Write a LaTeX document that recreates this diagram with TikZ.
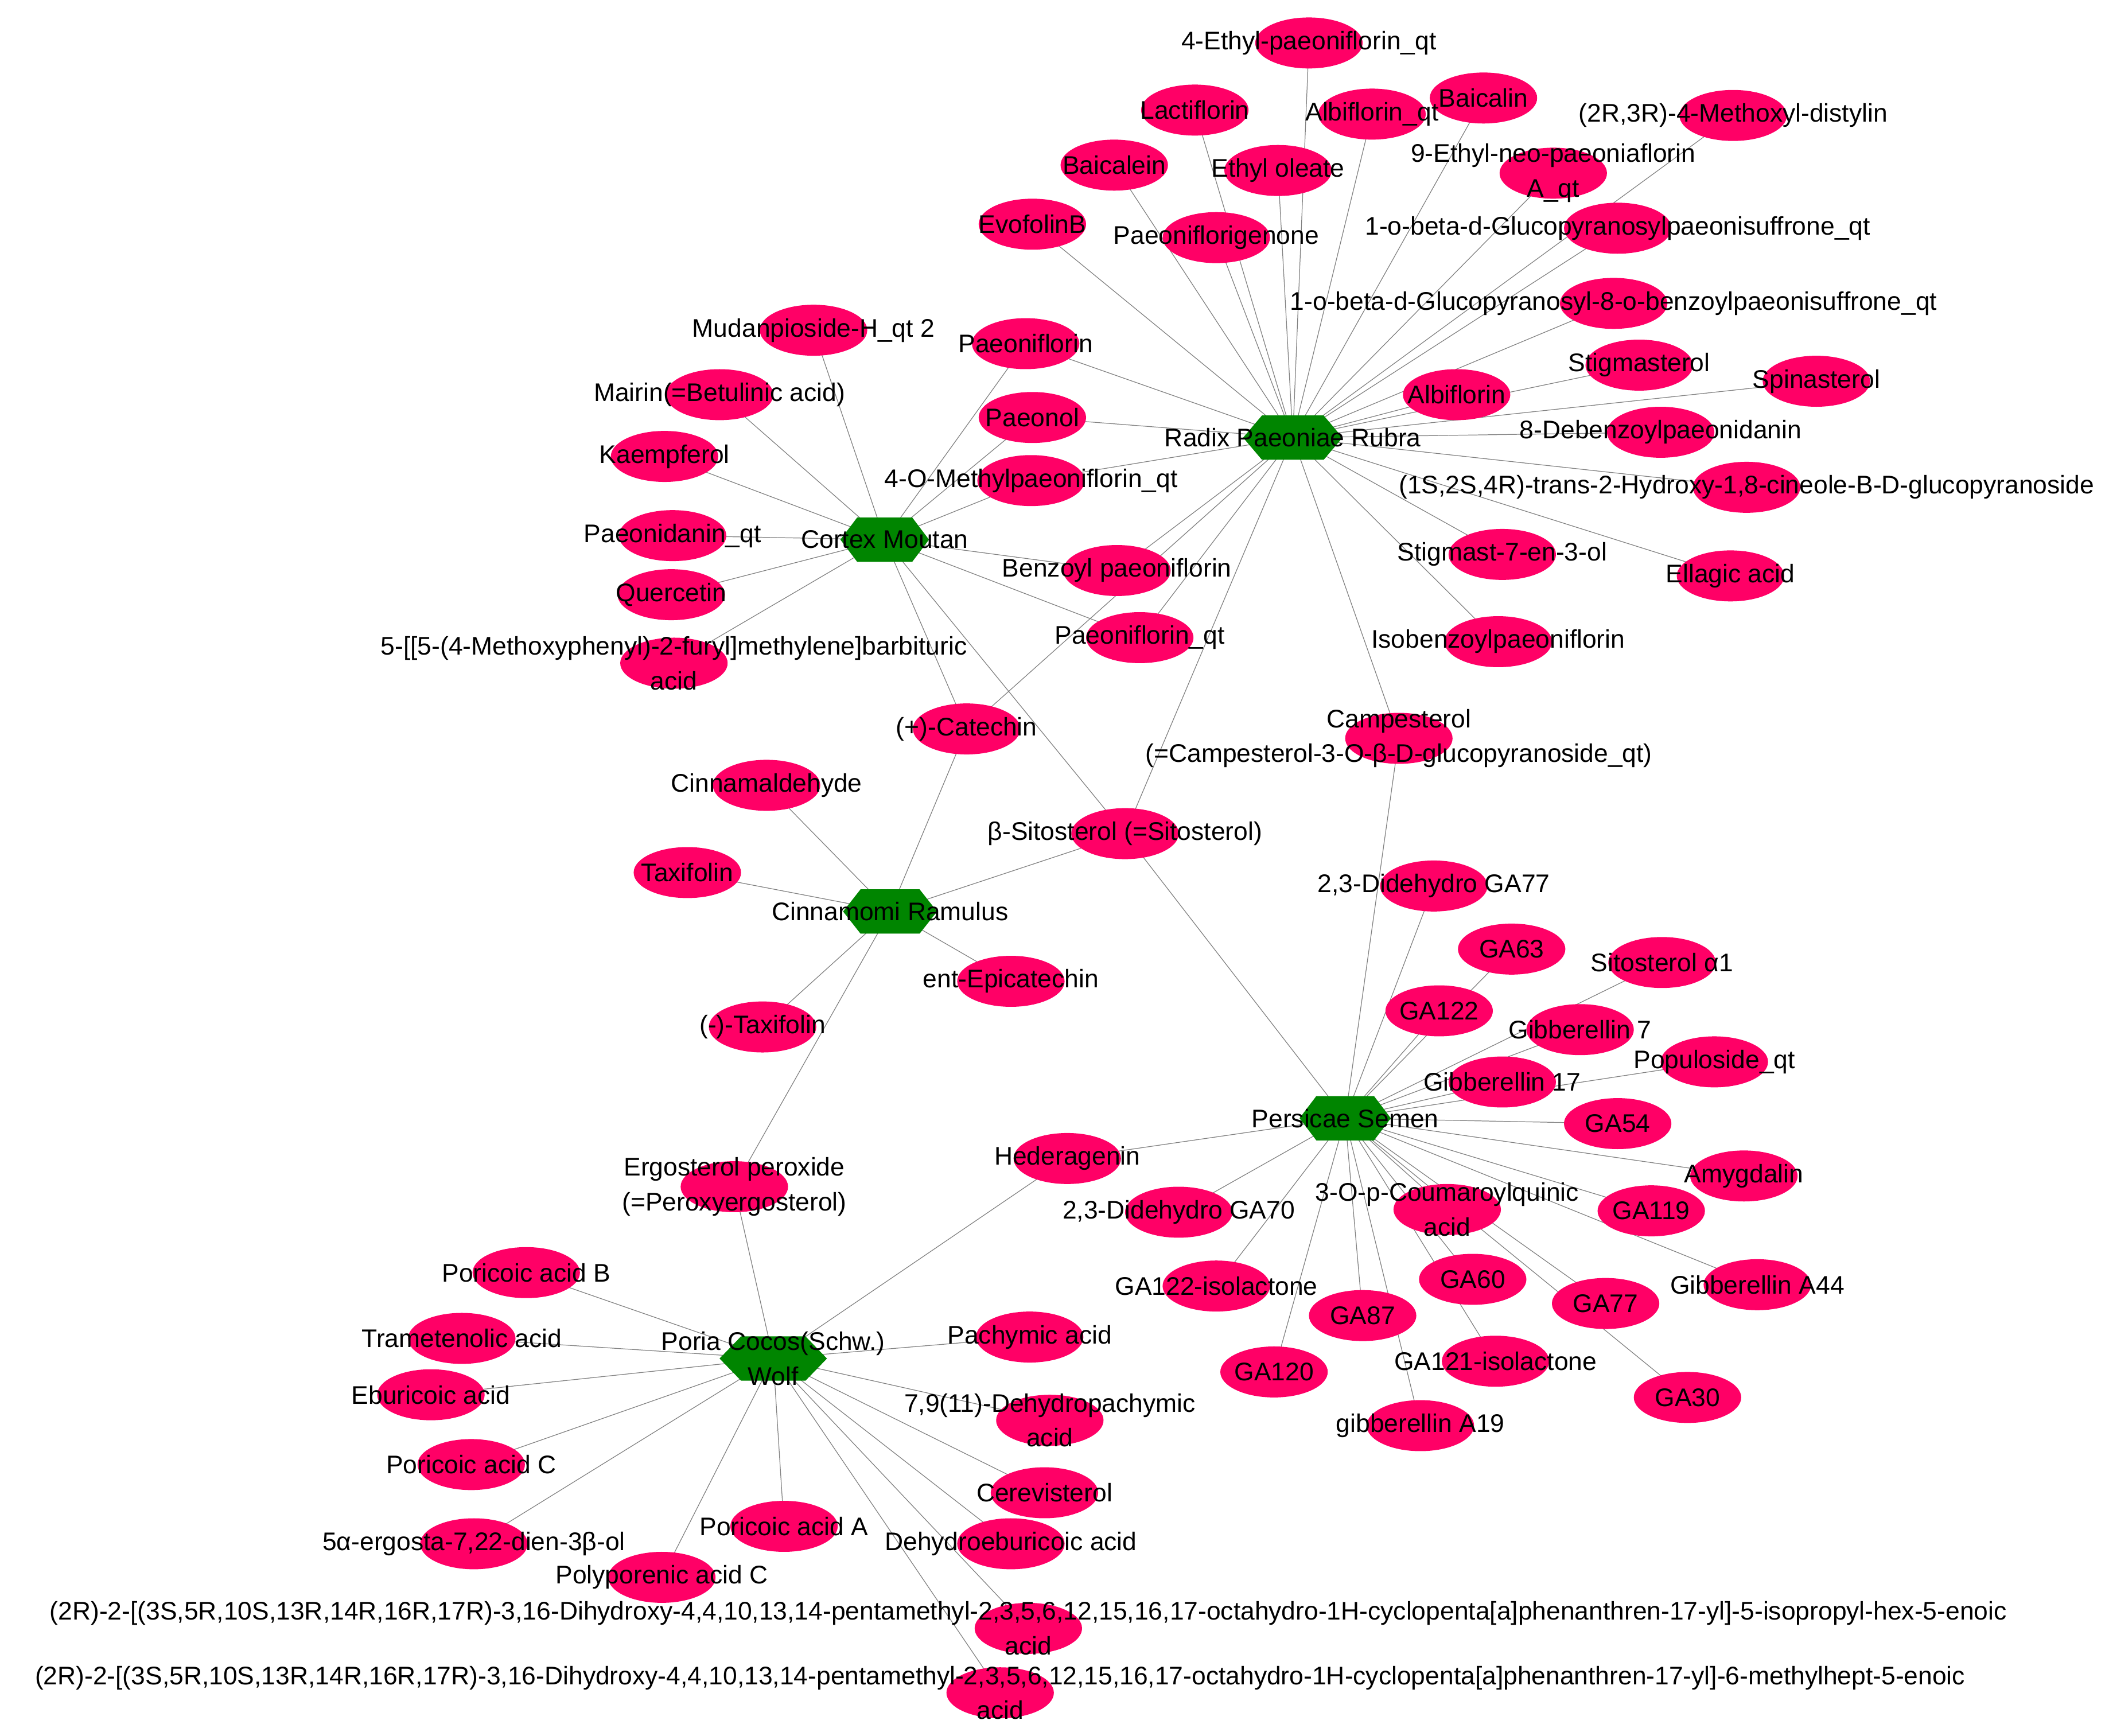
\documentclass[tikz,border=0pt]{standalone}
\usepackage{fontspec}
\setmainfont{Liberation Sans}
\usetikzlibrary{shapes.geometric}
\pgfdeclarelayer{bg}
\pgfsetlayers{bg,main}
\definecolor{cmpfill}{RGB}{255,0,102}
\definecolor{hubfill}{RGB}{0,133,0}
\definecolor{edgecol}{RGB}{128,128,128}
\newcommand\hexa[3]{\fill[hubfill] (#1.center) ++(-#2,0) -- ++(#3,-16.5) -- ++({2*(#2-#3)},0) -- ++(#3,16.5) -- ++(-#3,16.5) -- ++({-2*(#2-#3)},0) -- cycle;}
\begin{document}
\begin{tikzpicture}[x=0.05cm,y=-0.05cm,
  cmp/.style={ellipse,fill=cmpfill,minimum width=4cm,minimum height=1.9cm,inner sep=0pt},
  hub/.style={inner sep=0pt,minimum width=3.5cm,minimum height=1.65cm},
  lbl/.style={font=\fontsize{27}{37}\selectfont,align=center,inner sep=0pt,text=black},
  edge/.style={draw=edgecol,line width=0.75pt}]
\useasboundingbox (0,0) rectangle (1568,1293);

% hubs
\node[hub] (rpr) at (963,326) {};
\node[hub] (cm) at (659,402) {};
\node[hub] (cr) at (663,679) {};
\node[hub] (ps) at (1002,833) {};
\node[hub] (pc) at (576,1012) {};
\hexa{rpr}{37}{14}
\hexa{cm}{33}{12.5}
\hexa{cr}{35}{13}
\hexa{ps}{34}{12.5}
\hexa{pc}{40}{16}

% compounds
\node[cmp] (ethylpae) at (975,32) {};
\node[cmp] (lacti) at (890,82) {};
\node[cmp] (albqt) at (1022,85) {};
\node[cmp] (baicalin) at (1105,73) {};
\node[cmp] (methoxyl) at (1291,86) {};
\node[cmp] (ethylneo) at (1157,129) {};
\node[cmp] (baicalein) at (830,123) {};
\node[cmp] (ethylole) at (952,127) {};
\node[cmp] (evofolin) at (769,167) {};
\node[cmp] (paeonigen) at (906,177) {};
\node[cmp] (glucopae) at (1205,170) {};
\node[cmp] (glucobenz) at (1202,226) {};
\node[cmp] (paeoniflorin) at (764,256) {};
\node[cmp] (stigmasterol) at (1221,272) {};
\node[cmp] (spinasterol) at (1353,284) {};
\node[cmp] (albiflorin) at (1085,294) {};
\node[cmp] (paeonol) at (769,311) {};
\node[cmp] (debenz) at (1237,322) {};
\node[cmp] (methylpae) at (768,358) {};
\node[cmp] (cineole) at (1301,363) {};
\node[cmp] (stigmastseven) at (1119,413) {};
\node[cmp] (ellagic) at (1289,429) {};
\node[cmp] (benzoyl) at (832,425) {};
\node[cmp] (paeonqt) at (849,475) {};
\node[cmp] (isobenz) at (1116,478) {};
\node[cmp] (campesterol) at (1042,550) {};

\node[cmp] (mudan) at (606,246) {};
\node[cmp] (mairin) at (536,294) {};
\node[cmp] (kaempferol) at (495,340) {};
\node[cmp] (paeonidanin) at (501,399) {};
\node[cmp] (quercetin) at (500,443) {};
\node[cmp] (barbituric) at (502,494) {};

\node[cmp] (catechin) at (720,543) {};
\node[cmp] (cinnam) at (571,585) {};
\node[cmp] (sitosterol) at (838,621) {};
\node[cmp] (taxifolin) at (512,650) {};
\node[cmp] (epicat) at (753,731) {};
\node[cmp] (mtaxifolin) at (568,765) {};
\node[cmp] (ergosterol) at (547,884) {};

\node[cmp] (ddsevenseven) at (1068,660) {};
\node[cmp] (gasixthree) at (1126,707) {};
\node[cmp] (sitoalpha) at (1238,717) {};
\node[cmp] (gaonetwotwo) at (1072,753) {};
\node[cmp] (gibseven) at (1177,767) {};
\node[cmp] (populoside) at (1277,791) {};
\node[cmp] (gibseventeen) at (1119,806) {};
\node[cmp] (gafivefour) at (1205,837) {};
\node[cmp] (amygdalin) at (1299,876) {};
\node[cmp] (hederagenin) at (795,863) {};
\node[cmp] (ddseventy) at (878,903) {};
\node[cmp] (coumaroyl) at (1078,901) {};
\node[cmp] (gaonenineteen) at (1230,902) {};
\node[cmp] (gasixty) at (1097,953) {};
\node[cmp] (gaonetwotwoiso) at (906,958) {};
\node[cmp] (gaseventyseven) at (1196,971) {};
\node[cmp] (gibafortyfour) at (1309,957) {};
\node[cmp] (gaeightyseven) at (1015,980) {};
\node[cmp] (gaonetwenty) at (949,1022) {};
\node[cmp] (gaonetwoone) at (1114,1014) {};
\node[cmp] (gathirty) at (1257,1041) {};
\node[cmp] (gibanineteen) at (1058,1062) {};

\node[cmp] (poricb) at (392,948) {};
\node[cmp] (trameten) at (344,997) {};
\node[cmp] (pachymic) at (767,996) {};
\node[cmp] (eburicoic) at (321,1039) {};
\node[cmp] (dehydropach) at (782,1058) {};
\node[cmp] (poricc) at (351,1091) {};
\node[cmp] (cerevis) at (778,1112) {};
\node[cmp] (porica) at (584,1137) {};
\node[cmp] (ergosta) at (353,1150) {};
\node[cmp] (dehydroeb) at (753,1150) {};
\node[cmp] (polypor) at (493,1175) {};
\node[cmp] (longone) at (766,1213) {};
\node[cmp] (longtwo) at (745,1261) {};

% edges
\begin{pgfonlayer}{bg}
\foreach \t in {ethylpae,lacti,albqt,baicalin,methoxyl,ethylneo,baicalein,ethylole,evofolin,paeonigen,glucopae,glucobenz,paeoniflorin,stigmasterol,spinasterol,albiflorin,paeonol,debenz,methylpae,cineole,stigmastseven,ellagic,benzoyl,paeonqt,isobenz,campesterol,catechin,sitosterol}
  \draw[edge] (rpr.center) -- (\t.center);
\foreach \t in {mudan,mairin,kaempferol,paeonidanin,quercetin,barbituric,paeoniflorin,paeonol,methylpae,benzoyl,paeonqt,catechin,sitosterol}
  \draw[edge] (cm.center) -- (\t.center);
\foreach \t in {cinnam,taxifolin,catechin,sitosterol,epicat,mtaxifolin,ergosterol}
  \draw[edge] (cr.center) -- (\t.center);
\foreach \t in {sitosterol,campesterol,ddsevenseven,gasixthree,sitoalpha,gaonetwotwo,gibseven,populoside,gibseventeen,gafivefour,amygdalin,hederagenin,ddseventy,coumaroyl,gaonenineteen,gasixty,gaonetwotwoiso,gaseventyseven,gibafortyfour,gaeightyseven,gaonetwenty,gaonetwoone,gathirty,gibanineteen}
  \draw[edge] (ps.center) -- (\t.center);
\foreach \t in {ergosterol,hederagenin,poricb,trameten,eburicoic,poricc,ergosta,polypor,porica,pachymic,dehydropach,cerevis,dehydroeb,longone,longtwo}
  \draw[edge] (pc.center) -- (\t.center);
\end{pgfonlayer}

% labels
\node[lbl] (l-rpr) at (rpr) {Radix Paeoniae Rubra};
\node[lbl] (l-cm) at (cm) {Cortex Moutan};
\node[lbl] (l-cr) at (cr) {Cinnamomi Ramulus};
\node[lbl] (l-ps) at (ps) {Persicae Semen};
\node[lbl] (l-pc) at (pc) {Poria Cocos(Schw.)\\Wolf};

\node[lbl] (l-ethylpae) at (ethylpae) {4-Ethyl-paeoniflorin\_qt};
\node[lbl] (l-lacti) at (lacti) {Lactiflorin};
\node[lbl] (l-albqt) at (albqt) {Albiflorin\_qt};
\node[lbl] (l-baicalin) at (baicalin) {Baicalin};
\node[lbl] (l-methoxyl) at (methoxyl) {(2R,3R)-4-Methoxyl-distylin};
\node[lbl] (l-ethylneo) at (ethylneo) {9-Ethyl-neo-paeoniaflorin\\A\_qt};
\node[lbl] (l-baicalein) at (baicalein) {Baicalein};
\node[lbl] (l-ethylole) at (ethylole) {Ethyl oleate};
\node[lbl] (l-evofolin) at (evofolin) {EvofolinB};
\node[lbl] (l-paeonigen) at (paeonigen) {Paeoniflorigenone};
\node[lbl] (l-glucopae) at (glucopae) {1-o-beta-d-Glucopyranosylpaeonisuffrone\_qt};
\node[lbl] (l-glucobenz) at (glucobenz) {1-o-beta-d-Glucopyranosyl-8-o-benzoylpaeonisuffrone\_qt};
\node[lbl] (l-paeoniflorin) at (paeoniflorin) {Paeoniflorin};
\node[lbl] (l-stigmasterol) at (stigmasterol) {Stigmasterol};
\node[lbl] (l-spinasterol) at (spinasterol) {Spinasterol};
\node[lbl] (l-albiflorin) at (albiflorin) {Albiflorin};
\node[lbl] (l-paeonol) at (paeonol) {Paeonol};
\node[lbl] (l-debenz) at (debenz) {8-Debenzoylpaeonidanin};
\node[lbl] (l-methylpae) at (methylpae) {4-O-Methylpaeoniflorin\_qt};
\node[lbl] (l-cineole) at (cineole) {(1S,2S,4R)-trans-2-Hydroxy-1,8-cineole-B-D-glucopyranoside};
\node[lbl] (l-stigmastseven) at (stigmastseven) {Stigmast-7-en-3-ol};
\node[lbl] (l-ellagic) at (ellagic) {Ellagic acid};
\node[lbl] (l-benzoyl) at (benzoyl) {Benzoyl paeoniflorin};
\node[lbl] (l-paeonqt) at (paeonqt) {Paeoniflorin\_qt};
\node[lbl] (l-isobenz) at (isobenz) {Isobenzoylpaeoniflorin};
\node[lbl] (l-campesterol) at (campesterol) {Campesterol\\(=Campesterol-3-O-β-D-glucopyranoside\_qt)};

\node[lbl] (l-mudan) at (mudan) {Mudanpioside-H\_qt 2};
\node[lbl] (l-mairin) at (mairin) {Mairin(=Betulinic acid)};
\node[lbl] (l-kaempferol) at (kaempferol) {Kaempferol};
\node[lbl] (l-paeonidanin) at (paeonidanin) {Paeonidanin\_qt};
\node[lbl] (l-quercetin) at (quercetin) {Quercetin};
\node[lbl] (l-barbituric) at (barbituric) {5-[[5-(4-Methoxyphenyl)-2-furyl]methylene]barbituric\\acid};

\node[lbl] (l-catechin) at (catechin) {(+)-Catechin};
\node[lbl] (l-cinnam) at (cinnam) {Cinnamaldehyde};
\node[lbl] (l-sitosterol) at (sitosterol) {β-Sitosterol (=Sitosterol)};
\node[lbl] (l-taxifolin) at (taxifolin) {Taxifolin};
\node[lbl] (l-epicat) at (epicat) {ent-Epicatechin};
\node[lbl] (l-mtaxifolin) at (mtaxifolin) {(-)-Taxifolin};
\node[lbl] (l-ergosterol) at (ergosterol) {Ergosterol peroxide\\(=Peroxyergosterol)};

\node[lbl] (l-ddsevenseven) at (ddsevenseven) {2,3-Didehydro GA77};
\node[lbl] (l-gasixthree) at (gasixthree) {GA63};
\node[lbl] (l-sitoalpha) at (sitoalpha) {Sitosterol α1};
\node[lbl] (l-gaonetwotwo) at (gaonetwotwo) {GA122};
\node[lbl] (l-gibseven) at (gibseven) {Gibberellin 7};
\node[lbl] (l-populoside) at (populoside) {Populoside\_qt};
\node[lbl] (l-gibseventeen) at (gibseventeen) {Gibberellin 17};
\node[lbl] (l-gafivefour) at (gafivefour) {GA54};
\node[lbl] (l-amygdalin) at (amygdalin) {Amygdalin};
\node[lbl] (l-hederagenin) at (hederagenin) {Hederagenin};
\node[lbl] (l-ddseventy) at (ddseventy) {2,3-Didehydro GA70};
\node[lbl] (l-coumaroyl) at (coumaroyl) {3-O-p-Coumaroylquinic\\acid};
\node[lbl] (l-gaonenineteen) at (gaonenineteen) {GA119};
\node[lbl] (l-gasixty) at (gasixty) {GA60};
\node[lbl] (l-gaonetwotwoiso) at (gaonetwotwoiso) {GA122-isolactone};
\node[lbl] (l-gaseventyseven) at (gaseventyseven) {GA77};
\node[lbl] (l-gibafortyfour) at (gibafortyfour) {Gibberellin A44};
\node[lbl] (l-gaeightyseven) at (gaeightyseven) {GA87};
\node[lbl] (l-gaonetwenty) at (gaonetwenty) {GA120};
\node[lbl] (l-gaonetwoone) at (gaonetwoone) {GA121-isolactone};
\node[lbl] (l-gathirty) at (gathirty) {GA30};
\node[lbl] (l-gibanineteen) at (gibanineteen) {gibberellin A19};

\node[lbl] (l-poricb) at (poricb) {Poricoic acid B};
\node[lbl] (l-trameten) at (trameten) {Trametenolic acid};
\node[lbl] (l-pachymic) at (pachymic) {Pachymic acid};
\node[lbl] (l-eburicoic) at (eburicoic) {Eburicoic acid};
\node[lbl] (l-dehydropach) at (dehydropach) {7,9(11)-Dehydropachymic\\acid};
\node[lbl] (l-poricc) at (poricc) {Poricoic acid C};
\node[lbl] (l-cerevis) at (cerevis) {Cerevisterol};
\node[lbl] (l-porica) at (porica) {Poricoic acid A};
\node[lbl] (l-ergosta) at (ergosta) {5α-ergosta-7,22-dien-3β-ol};
\node[lbl] (l-dehydroeb) at (dehydroeb) {Dehydroeburicoic acid};
\node[lbl] (l-polypor) at (polypor) {Polyporenic acid C};
\node[lbl] (l-longone) at (longone) {(2R)-2-[(3S,5R,10S,13R,14R,16R,17R)-3,16-Dihydroxy-4,4,10,13,14-pentamethyl-2,3,5,6,12,15,16,17-octahydro-1H-cyclopenta[a]phenanthren-17-yl]-5-isopropyl-hex-5-enoic\\acid};
\node[lbl] (l-longtwo) at (longtwo) {(2R)-2-[(3S,5R,10S,13R,14R,16R,17R)-3,16-Dihydroxy-4,4,10,13,14-pentamethyl-2,3,5,6,12,15,16,17-octahydro-1H-cyclopenta[a]phenanthren-17-yl]-6-methylhept-5-enoic\\acid};
\end{tikzpicture}
\end{document}
